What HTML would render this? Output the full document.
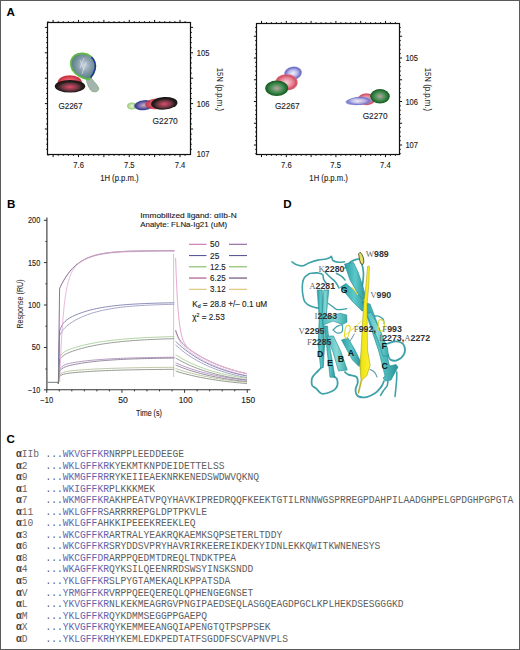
<!DOCTYPE html>
<html><head><meta charset="utf-8"><style>
html,body{margin:0;padding:0;background:#fff;}
body{width:520px;height:650px;overflow:hidden;}
svg{display:block;font-family:"Liberation Sans",sans-serif;}
</style></head><body>
<svg width="520" height="650" viewBox="0 0 520 650">
<defs><radialGradient id="gBK" cx="50%" cy="56%" r="50%"><stop offset="0" stop-color="#d85070"/><stop offset="0.25" stop-color="#b04058"/><stop offset="0.55" stop-color="#6a3840"/><stop offset="0.8" stop-color="#2e1c1e"/><stop offset="1" stop-color="#141414"/></radialGradient><radialGradient id="gRED" cx="50%" cy="50%" r="50%"><stop offset="0" stop-color="#f08890"/><stop offset="0.6" stop-color="#e05060"/><stop offset="0.9" stop-color="#c83040"/><stop offset="1" stop-color="#d04a50"/></radialGradient><radialGradient id="gGRN" cx="50%" cy="50%" r="50%"><stop offset="0" stop-color="#c0a0a0"/><stop offset="0.35" stop-color="#6a9a70"/><stop offset="0.75" stop-color="#2a7a3a"/><stop offset="0.95" stop-color="#1a5a26"/><stop offset="1" stop-color="#2a6a30"/></radialGradient><radialGradient id="gLAV" cx="50%" cy="50%" r="50%"><stop offset="0" stop-color="#f0f0fa"/><stop offset="0.5" stop-color="#b8b8e8"/><stop offset="0.85" stop-color="#7070c8"/><stop offset="1" stop-color="#9090d0"/></radialGradient><radialGradient id="gPINK" cx="50%" cy="50%" r="50%"><stop offset="0" stop-color="#f8d0d8"/><stop offset="0.55" stop-color="#e88898"/><stop offset="0.85" stop-color="#d05068"/><stop offset="1" stop-color="#e07080"/></radialGradient><radialGradient id="gBAL" cx="55%" cy="45%" r="50%"><stop offset="0" stop-color="#c8d4e0"/><stop offset="0.5" stop-color="#8ea2b0"/><stop offset="0.85" stop-color="#6a8a96"/><stop offset="1" stop-color="#5a8a80"/></radialGradient><radialGradient id="gBLU" cx="50%" cy="50%" r="50%"><stop offset="0" stop-color="#c8b0c0"/><stop offset="0.5" stop-color="#8070a8"/><stop offset="0.85" stop-color="#3a4090"/><stop offset="1" stop-color="#5060a8"/></radialGradient><radialGradient id="gLG" cx="50%" cy="50%" r="50%"><stop offset="0" stop-color="#e8f4d8"/><stop offset="0.6" stop-color="#b8dc98"/><stop offset="1" stop-color="#90c870"/></radialGradient><linearGradient id="gTeal" x1="0" y1="0" x2="1" y2="0"><stop offset="0" stop-color="#2a9ea4"/><stop offset="0.5" stop-color="#5cc8ca"/><stop offset="1" stop-color="#2a9298"/></linearGradient><linearGradient id="gTeal2" x1="0" y1="0" x2="1" y2="0"><stop offset="0" stop-color="#50bcbc"/><stop offset="0.5" stop-color="#88d8d6"/><stop offset="1" stop-color="#3aaaac"/></linearGradient><linearGradient id="gYel" x1="0" y1="0" x2="1" y2="0"><stop offset="0" stop-color="#a8a018"/><stop offset="0.3" stop-color="#ece418"/><stop offset="1" stop-color="#fff22a"/></linearGradient></defs>
<rect x="0" y="0" width="520" height="650" fill="#fff"/>
<rect x="47.5" y="22.5" width="143" height="132" fill="none" stroke="#111" stroke-width="1.2"/>
<path d="M48.05 22.5v-1.3M48.05 154.5v1.3M53.12 22.5v-2.6M53.12 154.5v2.6M58.2 22.5v-1.3M58.2 154.5v1.3M63.27 22.5v-1.3M63.27 154.5v1.3M68.35 22.5v-1.3M68.35 154.5v1.3M73.42 22.5v-1.3M73.42 154.5v1.3M78.5 22.5v-2.6M78.5 154.5v2.6M83.58 22.5v-1.3M83.58 154.5v1.3M88.65 22.5v-1.3M88.65 154.5v1.3M93.72 22.5v-1.3M93.72 154.5v1.3M98.8 22.5v-1.3M98.8 154.5v1.3M103.88 22.5v-2.6M103.88 154.5v2.6M108.95 22.5v-1.3M108.95 154.5v1.3M114.03 22.5v-1.3M114.03 154.5v1.3M119.1 22.5v-1.3M119.1 154.5v1.3M124.18 22.5v-1.3M124.18 154.5v1.3M129.25 22.5v-2.6M129.25 154.5v2.6M134.32 22.5v-1.3M134.32 154.5v1.3M139.4 22.5v-1.3M139.4 154.5v1.3M144.48 22.5v-1.3M144.48 154.5v1.3M149.55 22.5v-1.3M149.55 154.5v1.3M154.62 22.5v-2.6M154.62 154.5v2.6M159.7 22.5v-1.3M159.7 154.5v1.3M164.78 22.5v-1.3M164.78 154.5v1.3M169.85 22.5v-1.3M169.85 154.5v1.3M174.93 22.5v-1.3M174.93 154.5v1.3M180 22.5v-2.6M180 154.5v2.6M185.07 22.5v-1.3M185.07 154.5v1.3M47.5 27.4h-2.6M190.5 27.4h2.6M47.5 32.48h-1.3M190.5 32.48h1.3M47.5 37.56h-1.3M190.5 37.56h1.3M47.5 42.64h-1.3M190.5 42.64h1.3M47.5 47.72h-1.3M190.5 47.72h1.3M47.5 52.8h-2.6M190.5 52.8h2.6M47.5 57.88h-1.3M190.5 57.88h1.3M47.5 62.96h-1.3M190.5 62.96h1.3M47.5 68.04h-1.3M190.5 68.04h1.3M47.5 73.12h-1.3M190.5 73.12h1.3M47.5 78.2h-2.6M190.5 78.2h2.6M47.5 83.28h-1.3M190.5 83.28h1.3M47.5 88.36h-1.3M190.5 88.36h1.3M47.5 93.44h-1.3M190.5 93.44h1.3M47.5 98.52h-1.3M190.5 98.52h1.3M47.5 103.6h-2.6M190.5 103.6h2.6M47.5 108.68h-1.3M190.5 108.68h1.3M47.5 113.76h-1.3M190.5 113.76h1.3M47.5 118.84h-1.3M190.5 118.84h1.3M47.5 123.92h-1.3M190.5 123.92h1.3M47.5 129h-2.6M190.5 129h2.6M47.5 134.08h-1.3M190.5 134.08h1.3M47.5 139.16h-1.3M190.5 139.16h1.3M47.5 144.24h-1.3M190.5 144.24h1.3M47.5 149.32h-1.3M190.5 149.32h1.3" stroke="#111" stroke-width="1" fill="none"/>
<rect x="256.5" y="23.5" width="143" height="131" fill="none" stroke="#111" stroke-width="1.2"/>
<path d="M261.5 23.5v-2.6M261.5 154.5v2.6M266.46 23.5v-1.3M266.46 154.5v1.3M271.42 23.5v-1.3M271.42 154.5v1.3M276.38 23.5v-1.3M276.38 154.5v1.3M281.34 23.5v-1.3M281.34 154.5v1.3M286.3 23.5v-2.6M286.3 154.5v2.6M291.26 23.5v-1.3M291.26 154.5v1.3M296.22 23.5v-1.3M296.22 154.5v1.3M301.18 23.5v-1.3M301.18 154.5v1.3M306.14 23.5v-1.3M306.14 154.5v1.3M311.1 23.5v-2.6M311.1 154.5v2.6M316.06 23.5v-1.3M316.06 154.5v1.3M321.02 23.5v-1.3M321.02 154.5v1.3M325.98 23.5v-1.3M325.98 154.5v1.3M330.94 23.5v-1.3M330.94 154.5v1.3M335.9 23.5v-2.6M335.9 154.5v2.6M340.86 23.5v-1.3M340.86 154.5v1.3M345.82 23.5v-1.3M345.82 154.5v1.3M350.78 23.5v-1.3M350.78 154.5v1.3M355.74 23.5v-1.3M355.74 154.5v1.3M360.7 23.5v-2.6M360.7 154.5v2.6M365.66 23.5v-1.3M365.66 154.5v1.3M370.62 23.5v-1.3M370.62 154.5v1.3M375.58 23.5v-1.3M375.58 154.5v1.3M380.54 23.5v-1.3M380.54 154.5v1.3M385.5 23.5v-2.6M385.5 154.5v2.6M390.46 23.5v-1.3M390.46 154.5v1.3M395.42 23.5v-1.3M395.42 154.5v1.3M256.5 27.55h-1.3M399.5 27.55h1.3M256.5 31.9h-1.3M399.5 31.9h1.3M256.5 36.25h-2.6M399.5 36.25h2.6M256.5 40.6h-1.3M399.5 40.6h1.3M256.5 44.95h-1.3M399.5 44.95h1.3M256.5 49.3h-1.3M399.5 49.3h1.3M256.5 53.65h-1.3M399.5 53.65h1.3M256.5 58h-2.6M399.5 58h2.6M256.5 62.35h-1.3M399.5 62.35h1.3M256.5 66.7h-1.3M399.5 66.7h1.3M256.5 71.05h-1.3M399.5 71.05h1.3M256.5 75.4h-1.3M399.5 75.4h1.3M256.5 79.75h-2.6M399.5 79.75h2.6M256.5 84.1h-1.3M399.5 84.1h1.3M256.5 88.45h-1.3M399.5 88.45h1.3M256.5 92.8h-1.3M399.5 92.8h1.3M256.5 97.15h-1.3M399.5 97.15h1.3M256.5 101.5h-2.6M399.5 101.5h2.6M256.5 105.85h-1.3M399.5 105.85h1.3M256.5 110.2h-1.3M399.5 110.2h1.3M256.5 114.55h-1.3M399.5 114.55h1.3M256.5 118.9h-1.3M399.5 118.9h1.3M256.5 123.25h-2.6M399.5 123.25h2.6M256.5 127.6h-1.3M399.5 127.6h1.3M256.5 131.95h-1.3M399.5 131.95h1.3M256.5 136.3h-1.3M399.5 136.3h1.3M256.5 140.65h-1.3M399.5 140.65h1.3M256.5 145h-2.6M399.5 145h2.6M256.5 149.35h-1.3M399.5 149.35h1.3M256.5 153.7h-1.3M399.5 153.7h1.3" stroke="#111" stroke-width="1" fill="none"/>
<text x="6.6" y="16.0" font-size="11.6" font-weight="bold" fill="#000">A</text>
<text x="6.9" y="208.0" font-size="11.6" font-weight="bold" fill="#000">B</text>
<text x="6.4" y="443.4" font-size="11.6" font-weight="bold" fill="#000">C</text>
<text x="283.2" y="208.0" font-size="11.6" font-weight="bold" fill="#000">D</text>
<text x="196.8" y="55.6" font-size="8.5" fill="#1a1a1a" text-anchor="start" stroke="#1a1a1a" stroke-width="0.12" textLength="12.6" lengthAdjust="spacingAndGlyphs">105</text>
<text x="196.8" y="106.6" font-size="8.5" fill="#1a1a1a" text-anchor="start" stroke="#1a1a1a" stroke-width="0.12" textLength="12.6" lengthAdjust="spacingAndGlyphs">106</text>
<text x="196.8" y="157.3" font-size="8.5" fill="#1a1a1a" text-anchor="start" stroke="#1a1a1a" stroke-width="0.12" textLength="12.6" lengthAdjust="spacingAndGlyphs">107</text>
<text x="405.4" y="61" font-size="8.5" fill="#1a1a1a" text-anchor="start" stroke="#1a1a1a" stroke-width="0.12" textLength="12.6" lengthAdjust="spacingAndGlyphs">105</text>
<text x="405.4" y="104.5" font-size="8.5" fill="#1a1a1a" text-anchor="start" stroke="#1a1a1a" stroke-width="0.12" textLength="12.6" lengthAdjust="spacingAndGlyphs">106</text>
<text x="405.4" y="148" font-size="8.5" fill="#1a1a1a" text-anchor="start" stroke="#1a1a1a" stroke-width="0.12" textLength="12.6" lengthAdjust="spacingAndGlyphs">107</text>
<text x="78.6" y="168" font-size="8.5" fill="#1a1a1a" text-anchor="middle" stroke="#1a1a1a" stroke-width="0.12" textLength="10.6" lengthAdjust="spacingAndGlyphs">7.6</text>
<text x="129.2" y="168" font-size="8.5" fill="#1a1a1a" text-anchor="middle" stroke="#1a1a1a" stroke-width="0.12" textLength="10.6" lengthAdjust="spacingAndGlyphs">7.5</text>
<text x="180" y="168" font-size="8.5" fill="#1a1a1a" text-anchor="middle" stroke="#1a1a1a" stroke-width="0.12" textLength="10.6" lengthAdjust="spacingAndGlyphs">7.4</text>
<text x="286.4" y="168" font-size="8.5" fill="#1a1a1a" text-anchor="middle" stroke="#1a1a1a" stroke-width="0.12" textLength="10.6" lengthAdjust="spacingAndGlyphs">7.6</text>
<text x="335.6" y="168" font-size="8.5" fill="#1a1a1a" text-anchor="middle" stroke="#1a1a1a" stroke-width="0.12" textLength="10.6" lengthAdjust="spacingAndGlyphs">7.5</text>
<text x="385.4" y="168" font-size="8.5" fill="#1a1a1a" text-anchor="middle" stroke="#1a1a1a" stroke-width="0.12" textLength="10.6" lengthAdjust="spacingAndGlyphs">7.4</text>
<text x="119.4" y="180.5" font-size="8.8" fill="#1a1a1a" text-anchor="middle" stroke="#1a1a1a" stroke-width="0.12" textLength="38.5" lengthAdjust="spacingAndGlyphs">1H (p.p.m.)</text>
<text x="328.6" y="180.5" font-size="8.8" fill="#1a1a1a" text-anchor="middle" stroke="#1a1a1a" stroke-width="0.12" textLength="38.5" lengthAdjust="spacingAndGlyphs">1H (p.p.m.)</text>
<text transform="translate(216.5,67.7) rotate(90)" x="0" y="0" font-size="8.8" fill="#1a1a1a" textLength="43.3" lengthAdjust="spacingAndGlyphs">15N (p.p.m.)</text>
<text transform="translate(424.6,67.7) rotate(90)" x="0" y="0" font-size="8.8" fill="#1a1a1a" textLength="43.3" lengthAdjust="spacingAndGlyphs">15N (p.p.m.)</text>
<text x="58.4" y="108.8" font-size="8.6" fill="#1a1a1a" text-anchor="start" stroke="#1a1a1a" stroke-width="0.12" textLength="24.2" lengthAdjust="spacingAndGlyphs">G2267</text>
<text x="152.6" y="124.3" font-size="8.6" fill="#1a1a1a" text-anchor="start" stroke="#1a1a1a" stroke-width="0.12" textLength="25.2" lengthAdjust="spacingAndGlyphs">G2270</text>
<text x="274.9" y="108.6" font-size="8.6" fill="#1a1a1a" text-anchor="start" stroke="#1a1a1a" stroke-width="0.12" textLength="24.8" lengthAdjust="spacingAndGlyphs">G2267</text>
<text x="362.7" y="119" font-size="8.6" fill="#1a1a1a" text-anchor="start" stroke="#1a1a1a" stroke-width="0.12" textLength="24.8" lengthAdjust="spacingAndGlyphs">G2270</text>
<ellipse cx="69.8" cy="82.6" rx="12.2" ry="7.4" fill="url(#gRED)"/>
<path d="M86 78.5 C87 83 88.5 87 90.5 90 C92.5 92.5 97 92.5 98.5 89.8 C99.5 87.5 96.5 84.5 94 81.5 C92.5 79.8 91.5 78.5 91 77.5 Z" fill="#a4b4b0" stroke="#84aa7c" stroke-width="0.9"/>
<path d="M88.5 79.5 C83 78.5 76 75 72.5 70 C69.5 65 70.5 58.5 75 55.2 C79.5 52.3 87 52.8 91 56.5 C94.8 60 96 65 95 69 C94 73.5 91.5 77 88.5 79.5 Z" fill="url(#gBAL)" stroke="#62b844" stroke-width="1.7"/>
<path d="M91.5 57 C94.8 60.5 95.8 65 95 69 C94.2 72.5 92.5 75.5 90.5 77.8" stroke="#2432a0" stroke-width="1.6" fill="none"/>
<path d="M80 60 L84 70 M84 58 L80 68 M86 62 L82 74" stroke="#dfe6ee" stroke-width="0.8" fill="none" opacity="0.8"/>
<ellipse cx="70" cy="86.2" rx="15.2" ry="6.3" fill="url(#gBK)"/>
<ellipse cx="132" cy="106" rx="5" ry="3.6" fill="url(#gLG)"/>
<ellipse cx="144" cy="105.2" rx="10" ry="5" fill="url(#gBLU)" transform="rotate(-6 144 105.2)"/>
<ellipse cx="156" cy="103.8" rx="11" ry="5.4" fill="url(#gRED)" transform="rotate(-5 156 103.8)" opacity="0.85"/>
<ellipse cx="164.3" cy="103.3" rx="13.2" ry="6.3" fill="url(#gBK)" transform="rotate(-4 164.3 103.3)"/>
<ellipse cx="293" cy="73.2" rx="9" ry="6.6" fill="url(#gLAV)" transform="rotate(-10 293 73.2)"/>
<ellipse cx="286.5" cy="82.4" rx="11.2" ry="8.2" fill="url(#gPINK)"/>
<ellipse cx="276.7" cy="88.3" rx="11.5" ry="7.7" fill="url(#gGRN)"/>
<ellipse cx="366.5" cy="99.2" rx="8.8" ry="6" fill="url(#gPINK)"/>
<path d="M345.5 101.5 C349 97.8 357 96.2 364 96.8 C369 97.4 372 99.5 371 101.8 C369 104.5 358 106 350 104.8 C347.5 104.4 345.5 103.2 345.5 101.5 Z" fill="url(#gLAV)" opacity="0.92"/>
<ellipse cx="380" cy="96.3" rx="9.8" ry="7.3" fill="url(#gGRN)"/>
<path d="M46.9 217.4V389.8H250.4" stroke="#333" stroke-width="1.1" fill="none"/>
<path d="M46.9 220.3h-3M46.9 241.5h-1.5M46.9 262.6h-3M46.9 283.8h-1.5M46.9 305h-3M46.9 326.2h-1.5M46.9 347.5h-3M46.9 369h-1.5M46.9 389.8h-3M46.77 389.8v3M59.3 389.8v1.6M71.83 389.8v1.6M84.36 389.8v1.6M96.89 389.8v1.6M109.42 389.8v1.6M121.95 389.8v3M134.48 389.8v1.6M147.01 389.8v1.6M159.54 389.8v1.6M172.07 389.8v1.6M184.6 389.8v3M197.13 389.8v1.6M209.66 389.8v1.6M222.19 389.8v1.6M234.72 389.8v1.6M247.25 389.8v3" stroke="#333" stroke-width="1" fill="none"/>
<text x="40.2" y="223.2" font-size="8.2" fill="#1a1a1a" text-anchor="end" stroke="#1a1a1a" stroke-width="0.12" textLength="12.2" lengthAdjust="spacingAndGlyphs">200</text>
<text x="40.2" y="265.5" font-size="8.2" fill="#1a1a1a" text-anchor="end" stroke="#1a1a1a" stroke-width="0.12" textLength="12.2" lengthAdjust="spacingAndGlyphs">150</text>
<text x="40.2" y="307.9" font-size="8.2" fill="#1a1a1a" text-anchor="end" stroke="#1a1a1a" stroke-width="0.12" textLength="12.2" lengthAdjust="spacingAndGlyphs">100</text>
<text x="40.2" y="350.4" font-size="8.2" fill="#1a1a1a" text-anchor="end" stroke="#1a1a1a" stroke-width="0.12" textLength="8.4" lengthAdjust="spacingAndGlyphs">50</text>
<text x="40.2" y="392.9" font-size="8.2" fill="#1a1a1a" text-anchor="end" stroke="#1a1a1a" stroke-width="0.12" textLength="12.2" lengthAdjust="spacingAndGlyphs">−10</text>
<text x="46.77" y="403" font-size="8.2" fill="#1a1a1a" text-anchor="middle" stroke="#1a1a1a" stroke-width="0.12" textLength="12.8" lengthAdjust="spacingAndGlyphs">−10</text>
<text x="122.95" y="403" font-size="8.2" fill="#1a1a1a" text-anchor="middle" stroke="#1a1a1a" stroke-width="0.12" textLength="9.6" lengthAdjust="spacingAndGlyphs">50</text>
<text x="185.6" y="403" font-size="8.2" fill="#1a1a1a" text-anchor="middle" stroke="#1a1a1a" stroke-width="0.12" textLength="13.8" lengthAdjust="spacingAndGlyphs">100</text>
<text x="248.25" y="403" font-size="8.2" fill="#1a1a1a" text-anchor="middle" stroke="#1a1a1a" stroke-width="0.12" textLength="13.8" lengthAdjust="spacingAndGlyphs">150</text>
<text x="149" y="416.3" font-size="8.2" fill="#1a1a1a" text-anchor="middle" stroke="#1a1a1a" stroke-width="0.12" textLength="25.9" lengthAdjust="spacingAndGlyphs">Time (s)</text>
<text transform="translate(22.6,304) rotate(-90)" font-size="8.6" fill="#222" text-anchor="middle" textLength="49.2" lengthAdjust="spacingAndGlyphs">Response (RU)</text>
<text x="140.2" y="218.2" font-size="7.4" fill="#222" text-anchor="start" stroke="#222" stroke-width="0.12" textLength="96.6" lengthAdjust="spacingAndGlyphs">Immobilized ligand: αIIb-N</text>
<text x="140.2" y="227.1" font-size="7.4" fill="#222" text-anchor="start" stroke="#222" stroke-width="0.12" textLength="87" lengthAdjust="spacingAndGlyphs">Analyte: FLNa-Ig21 (uM)</text>
<path d="M189 244.3H206.5" stroke="#c870b0" stroke-width="1.1"/>
<path d="M229 244.3H247" stroke="#9060a0" stroke-width="1.1"/>
<text x="210" y="247.3" font-size="8.6" fill="#1a1a1a" text-anchor="start" stroke="#1a1a1a" stroke-width="0.12" textLength="9.3" lengthAdjust="spacingAndGlyphs">50</text>
<path d="M189 255.55H206.5" stroke="#5a5a9a" stroke-width="1.1"/>
<path d="M229 255.55H247" stroke="#5a5a9a" stroke-width="1.1"/>
<text x="210" y="258.55" font-size="8.6" fill="#1a1a1a" text-anchor="start" stroke="#1a1a1a" stroke-width="0.12" textLength="9.3" lengthAdjust="spacingAndGlyphs">25</text>
<path d="M189 266.8H206.5" stroke="#80b860" stroke-width="1.1"/>
<path d="M229 266.8H247" stroke="#80b860" stroke-width="1.1"/>
<text x="210" y="269.8" font-size="8.6" fill="#1a1a1a" text-anchor="start" stroke="#1a1a1a" stroke-width="0.12" textLength="15.6" lengthAdjust="spacingAndGlyphs">12.5</text>
<path d="M189 278.05H206.5" stroke="#a84888" stroke-width="1.1"/>
<path d="M229 278.05H247" stroke="#604070" stroke-width="1.1"/>
<text x="210" y="281.05" font-size="8.6" fill="#1a1a1a" text-anchor="start" stroke="#1a1a1a" stroke-width="0.12" textLength="15.6" lengthAdjust="spacingAndGlyphs">6.25</text>
<path d="M189 289.3H206.5" stroke="#d8c070" stroke-width="1.1"/>
<path d="M229 289.3H247" stroke="#d8c070" stroke-width="1.1"/>
<text x="210" y="292.3" font-size="8.6" fill="#1a1a1a" text-anchor="start" stroke="#1a1a1a" stroke-width="0.12" textLength="15.6" lengthAdjust="spacingAndGlyphs">3.12</text>
<text x="192.2" y="306.6" font-size="8.2" fill="#1a1a1a" stroke="#1a1a1a" stroke-width="0.12" textLength="75" lengthAdjust="spacingAndGlyphs">K<tspan font-size="5.2" dy="1.8">d</tspan><tspan dy="-1.8"> = 28.8 +/– 0.1 uM</tspan></text>
<text x="192.2" y="320.2" font-size="8.2" fill="#1a1a1a" stroke="#1a1a1a" stroke-width="0.12" textLength="32.5" lengthAdjust="spacingAndGlyphs">χ<tspan font-size="5.2" dy="-3">2</tspan><tspan dy="3"> = 2.53</tspan></text>
<path d="M57.2 382.3 L58.4 383.3 L59.6 288.7 L60.5 286.77 L62 283.76 L63.5 281.01 L65 278.49 L66.5 276.19 L68 274.08 L69.5 272.15 L71 270.38 L72.5 268.76 L74 267.28 L75.5 265.92 L77 264.67 L78.5 263.54 L80 262.49 L81.5 261.54 L83 260.67 L84.5 259.87 L86 259.14 L87.5 258.47 L89 257.85 L90.5 257.29 L92 256.78 L93.5 256.31 L95 255.87 L96.5 255.48 L98 255.12 L99.5 254.79 L101 254.48 L102.5 254.21 L104 253.95 L105.5 253.72 L107 253.51 L108.5 253.31 L110 253.13 L111.5 252.97 L113 252.82 L114.5 252.68 L116 252.56 L117.5 252.44 L119 252.34 L120.5 252.24 L122 252.15 L123.5 252.07 L125 252 L126.5 251.93 L128 251.87 L129.5 251.81 L131 251.76 L132.5 251.71 L134 251.67 L135.5 251.63 L137 251.6 L138.5 251.56 L140 251.53 L141.5 251.5 L143 251.48 L144.5 251.45 L146 251.43 L147.5 251.41 L149 251.4 L150.5 251.38 L152 251.36 L153.5 251.35 L155 251.34 L156.5 251.33 L158 251.31 L159.5 251.31 L161 251.3 L162.5 251.29 L164 251.28 L165.5 251.27 L167 251.27 L168.5 251.26 L170 251.26 L171.5 251.25 L173 251.25 L174.4 251.24 M175.6 331 L176.5 334.19 L178 338.2 L179.5 341.14 L181 343.41 L182.5 345.26 L184 346.84 L185.5 348.24 L187 349.52 L188.5 350.72 L190 351.85 L191.5 352.93 L193 353.96 L194.5 354.96 L196 355.92 L197.5 356.85 L199 357.74 L200.5 358.62 L202 359.46 L203.5 360.28 L205 361.07 L206.5 361.84 L208 362.58 L209.5 363.3 L211 364 L212.5 364.67 L214 365.33 L215.5 365.97 L217 366.58 L218.5 367.18 L220 367.76 L221.5 368.32 L223 368.86 L224.5 369.39 L226 369.9 L227.5 370.4 L229 370.88 L230.5 371.34 L232 371.79 L233.5 372.23 L235 372.66 L236.5 373.07 L238 373.46 L239.5 373.85 L241 374.22 L242.5 374.59 L244 374.94 L245.5 375.28 L247 375.61" stroke="#d8b0d4" stroke-width="0.7" fill="none"/>
<path d="M57.2 382.3 L58.4 383.3 L59.6 288.5 L60.5 286.55 L62 283.51 L63.5 280.73 L65 278.19 L66.5 275.86 L68 273.72 L69.5 271.77 L71 269.98 L72.5 268.35 L74 266.85 L75.5 265.47 L77 264.22 L78.5 263.07 L80 262.02 L81.5 261.05 L83 260.17 L84.5 259.36 L86 258.62 L87.5 257.94 L89 257.32 L90.5 256.76 L92 256.24 L93.5 255.76 L95 255.32 L96.5 254.92 L98 254.56 L99.5 254.23 L101 253.92 L102.5 253.64 L104 253.38 L105.5 253.15 L107 252.93 L108.5 252.74 L110 252.55 L111.5 252.39 L113 252.24 L114.5 252.1 L116 251.97 L117.5 251.86 L119 251.75 L120.5 251.65 L122 251.56 L123.5 251.48 L125 251.41 L126.5 251.34 L128 251.28 L129.5 251.22 L131 251.17 L132.5 251.12 L134 251.08 L135.5 251.04 L137 251 L138.5 250.97 L140 250.93 L141.5 250.91 L143 250.88 L144.5 250.86 L146 250.84 L147.5 250.82 L149 250.8 L150.5 250.78 L152 250.77 L153.5 250.75 L155 250.74 L156.5 250.73 L158 250.72 L159.5 250.71 L161 250.7 L162.5 250.69 L164 250.68 L165.5 250.67 L167 250.67 L168.5 250.66 L170 250.66 L171.5 250.65 L173 250.65 L174.4 250.64 M175.6 330 L176.5 332.91 L178 336.61 L179.5 339.35 L181 341.49 L182.5 343.26 L184 344.78 L185.5 346.15 L187 347.4 L188.5 348.58 L190 349.7 L191.5 350.76 L193 351.79 L194.5 352.78 L196 353.74 L197.5 354.66 L199 355.56 L200.5 356.43 L202 357.28 L203.5 358.1 L205 358.89 L206.5 359.67 L208 360.41 L209.5 361.14 L211 361.85 L212.5 362.53 L214 363.19 L215.5 363.84 L217 364.46 L218.5 365.07 L220 365.66 L221.5 366.23 L223 366.79 L224.5 367.33 L226 367.85 L227.5 368.35 L229 368.85 L230.5 369.32 L232 369.79 L233.5 370.24 L235 370.67 L236.5 371.1 L238 371.51 L239.5 371.91 L241 372.29 L242.5 372.67 L244 373.03 L245.5 373.39 L247 373.73" stroke="#6a5878" stroke-width="0.7" fill="none"/>
<path d="M57.2 382.3 L58.4 383.3 L59.6 330.9 L60.5 328.45 L62 325.38 L63.5 323.17 L65 321.5 L66.5 320.16 L68 319.05 L69.5 318.09 L71 317.23 L72.5 316.45 L74 315.72 L75.5 315.05 L77 314.41 L78.5 313.82 L80 313.25 L81.5 312.71 L83 312.2 L84.5 311.72 L86 311.26 L87.5 310.82 L89 310.41 L90.5 310.01 L92 309.64 L93.5 309.28 L95 308.94 L96.5 308.61 L98 308.31 L99.5 308.01 L101 307.73 L102.5 307.47 L104 307.22 L105.5 306.98 L107 306.75 L108.5 306.53 L110 306.33 L111.5 306.13 L113 305.94 L114.5 305.76 L116 305.6 L117.5 305.44 L119 305.28 L120.5 305.14 L122 305 L123.5 304.87 L125 304.74 L126.5 304.62 L128 304.51 L129.5 304.4 L131 304.3 L132.5 304.2 L134 304.11 L135.5 304.02 L137 303.94 L138.5 303.86 L140 303.78 L141.5 303.71 L143 303.64 L144.5 303.57 L146 303.51 L147.5 303.45 L149 303.4 L150.5 303.34 L152 303.29 L153.5 303.24 L155 303.2 L156.5 303.15 L158 303.11 L159.5 303.07 L161 303.04 L162.5 303 L164 302.97 L165.5 302.93 L167 302.9 L168.5 302.87 L170 302.84 L171.5 302.82 L173 302.79 L174.4 302.77 M175.6 341.4 L176.5 342.26 L178 343.66 L179.5 345.02 L181 346.33 L182.5 347.6 L184 348.82 L185.5 350.01 L187 351.16 L188.5 352.27 L190 353.34 L191.5 354.38 L193 355.38 L194.5 356.35 L196 357.29 L197.5 358.2 L199 359.08 L200.5 359.93 L202 360.75 L203.5 361.55 L205 362.31 L206.5 363.06 L208 363.78 L209.5 364.47 L211 365.15 L212.5 365.8 L214 366.43 L215.5 367.04 L217 367.62 L218.5 368.19 L220 368.75 L221.5 369.28 L223 369.79 L224.5 370.29 L226 370.77 L227.5 371.24 L229 371.69 L230.5 372.13 L232 372.55 L233.5 372.96 L235 373.35 L236.5 373.73 L238 374.1 L239.5 374.46 L241 374.81 L242.5 375.14 L244 375.46 L245.5 375.78 L247 376.08" stroke="#5a5a98" stroke-width="0.7" fill="none"/>
<path d="M57.2 382.3 L58.4 383.3 L59.6 335.6 L60.5 333.74 L62 331.25 L63.5 329.29 L65 327.67 L66.5 326.27 L68 325.03 L69.5 323.91 L71 322.87 L72.5 321.9 L74 321 L75.5 320.14 L77 319.33 L78.5 318.57 L80 317.84 L81.5 317.15 L83 316.49 L84.5 315.87 L86 315.27 L87.5 314.71 L89 314.17 L90.5 313.66 L92 313.17 L93.5 312.71 L95 312.27 L96.5 311.85 L98 311.46 L99.5 311.08 L101 310.72 L102.5 310.38 L104 310.05 L105.5 309.74 L107 309.45 L108.5 309.17 L110 308.9 L111.5 308.65 L113 308.41 L114.5 308.18 L116 307.96 L117.5 307.75 L119 307.55 L120.5 307.36 L122 307.19 L123.5 307.02 L125 306.85 L126.5 306.7 L128 306.55 L129.5 306.41 L131 306.28 L132.5 306.16 L134 306.04 L135.5 305.92 L137 305.81 L138.5 305.71 L140 305.61 L141.5 305.52 L143 305.43 L144.5 305.35 L146 305.27 L147.5 305.19 L149 305.12 L150.5 305.05 L152 304.98 L153.5 304.92 L155 304.86 L156.5 304.8 L158 304.75 L159.5 304.7 L161 304.65 L162.5 304.6 L164 304.56 L165.5 304.52 L167 304.48 L168.5 304.44 L170 304.4 L171.5 304.37 L173 304.34 L174.4 304.31 M175.6 345 L176.5 345.81 L178 347.13 L179.5 348.4 L181 349.64 L182.5 350.83 L184 351.98 L185.5 353.1 L187 354.18 L188.5 355.22 L190 356.23 L191.5 357.2 L193 358.15 L194.5 359.06 L196 359.94 L197.5 360.8 L199 361.62 L200.5 362.42 L202 363.2 L203.5 363.94 L205 364.67 L206.5 365.37 L208 366.04 L209.5 366.7 L211 367.33 L212.5 367.94 L214 368.53 L215.5 369.11 L217 369.66 L218.5 370.2 L220 370.71 L221.5 371.22 L223 371.7 L224.5 372.17 L226 372.62 L227.5 373.06 L229 373.49 L230.5 373.9 L232 374.29 L233.5 374.68 L235 375.05 L236.5 375.41 L238 375.75 L239.5 376.09 L241 376.41 L242.5 376.73 L244 377.03 L245.5 377.33 L247 377.61" stroke="#8080b0" stroke-width="0.7" fill="none"/>
<path d="M57.2 382.3 L58.4 383.3 L59.6 357.1 L60.5 355.67 L62 353.88 L63.5 352.56 L65 351.55 L66.5 350.73 L68 350.03 L69.5 349.41 L71 348.85 L72.5 348.33 L74 347.84 L75.5 347.38 L77 346.94 L78.5 346.52 L80 346.11 L81.5 345.72 L83 345.35 L84.5 344.99 L86 344.65 L87.5 344.31 L89 343.99 L90.5 343.68 L92 343.39 L93.5 343.1 L95 342.82 L96.5 342.56 L98 342.3 L99.5 342.05 L101 341.82 L102.5 341.59 L104 341.37 L105.5 341.16 L107 340.95 L108.5 340.75 L110 340.56 L111.5 340.38 L113 340.21 L114.5 340.04 L116 339.87 L117.5 339.72 L119 339.56 L120.5 339.42 L122 339.28 L123.5 339.14 L125 339.01 L126.5 338.89 L128 338.77 L129.5 338.65 L131 338.54 L132.5 338.43 L134 338.32 L135.5 338.22 L137 338.13 L138.5 338.03 L140 337.94 L141.5 337.86 L143 337.78 L144.5 337.7 L146 337.62 L147.5 337.54 L149 337.47 L150.5 337.4 L152 337.34 L153.5 337.27 L155 337.21 L156.5 337.15 L158 337.1 L159.5 337.04 L161 336.99 L162.5 336.94 L164 336.89 L165.5 336.84 L167 336.79 L168.5 336.75 L170 336.71 L171.5 336.67 L173 336.63 L174.4 336.59 M175.6 354.7 L176.5 355.27 L178 356.21 L179.5 357.11 L181 357.99 L182.5 358.84 L184 359.66 L185.5 360.45 L187 361.23 L188.5 361.97 L190 362.7 L191.5 363.4 L193 364.08 L194.5 364.73 L196 365.37 L197.5 365.99 L199 366.58 L200.5 367.16 L202 367.72 L203.5 368.26 L205 368.79 L206.5 369.3 L208 369.79 L209.5 370.27 L211 370.73 L212.5 371.18 L214 371.62 L215.5 372.04 L217 372.44 L218.5 372.84 L220 373.22 L221.5 373.59 L223 373.95 L224.5 374.29 L226 374.63 L227.5 374.96 L229 375.27 L230.5 375.58 L232 375.87 L233.5 376.16 L235 376.44 L236.5 376.71 L238 376.97 L239.5 377.22 L241 377.46 L242.5 377.7 L244 377.93 L245.5 378.15 L247 378.37" stroke="#90c078" stroke-width="0.7" fill="none"/>
<path d="M57.2 382.3 L58.4 383.3 L59.6 359.4 L60.5 358.2 L62 356.65 L63.5 355.47 L65 354.52 L66.5 353.72 L68 353.02 L69.5 352.39 L71 351.8 L72.5 351.26 L74 350.74 L75.5 350.25 L77 349.78 L78.5 349.33 L80 348.89 L81.5 348.48 L83 348.07 L84.5 347.69 L86 347.32 L87.5 346.96 L89 346.61 L90.5 346.28 L92 345.96 L93.5 345.66 L95 345.36 L96.5 345.07 L98 344.8 L99.5 344.53 L101 344.28 L102.5 344.03 L104 343.8 L105.5 343.57 L107 343.35 L108.5 343.14 L110 342.93 L111.5 342.74 L113 342.55 L114.5 342.37 L116 342.19 L117.5 342.02 L119 341.86 L120.5 341.7 L122 341.55 L123.5 341.41 L125 341.27 L126.5 341.13 L128 341 L129.5 340.88 L131 340.75 L132.5 340.64 L134 340.53 L135.5 340.42 L137 340.32 L138.5 340.22 L140 340.12 L141.5 340.03 L143 339.94 L144.5 339.85 L146 339.77 L147.5 339.69 L149 339.61 L150.5 339.54 L152 339.47 L153.5 339.4 L155 339.33 L156.5 339.27 L158 339.21 L159.5 339.15 L161 339.09 L162.5 339.04 L164 338.98 L165.5 338.93 L167 338.88 L168.5 338.84 L170 338.79 L171.5 338.75 L173 338.7 L174.4 338.67 M175.6 358 L176.5 358.53 L178 359.39 L179.5 360.23 L181 361.04 L182.5 361.82 L184 362.58 L185.5 363.32 L187 364.03 L188.5 364.72 L190 365.39 L191.5 366.04 L193 366.66 L194.5 367.27 L196 367.86 L197.5 368.43 L199 368.98 L200.5 369.52 L202 370.03 L203.5 370.53 L205 371.02 L206.5 371.49 L208 371.95 L209.5 372.39 L211 372.82 L212.5 373.23 L214 373.63 L215.5 374.02 L217 374.4 L218.5 374.76 L220 375.11 L221.5 375.46 L223 375.79 L224.5 376.11 L226 376.42 L227.5 376.72 L229 377.01 L230.5 377.29 L232 377.57 L233.5 377.83 L235 378.09 L236.5 378.34 L238 378.58 L239.5 378.81 L241 379.04 L242.5 379.26 L244 379.47 L245.5 379.67 L247 379.87" stroke="#6a7468" stroke-width="0.7" fill="none"/>
<path d="M57.2 382.3 L58.4 383.3 L59.6 369.3 L60.5 368.05 L62 366.54 L63.5 365.5 L65 364.76 L66.5 364.2 L68 363.75 L69.5 363.38 L71 363.05 L72.5 362.76 L74 362.5 L75.5 362.25 L77 362.02 L78.5 361.8 L80 361.59 L81.5 361.4 L83 361.21 L84.5 361.02 L86 360.85 L87.5 360.69 L89 360.53 L90.5 360.37 L92 360.23 L93.5 360.09 L95 359.96 L96.5 359.83 L98 359.7 L99.5 359.59 L101 359.47 L102.5 359.37 L104 359.26 L105.5 359.16 L107 359.07 L108.5 358.98 L110 358.89 L111.5 358.81 L113 358.73 L114.5 358.65 L116 358.58 L117.5 358.51 L119 358.44 L120.5 358.37 L122 358.31 L123.5 358.25 L125 358.2 L126.5 358.14 L128 358.09 L129.5 358.04 L131 357.99 L132.5 357.95 L134 357.9 L135.5 357.86 L137 357.82 L138.5 357.78 L140 357.74 L141.5 357.71 L143 357.68 L144.5 357.64 L146 357.61 L147.5 357.58 L149 357.55 L150.5 357.53 L152 357.5 L153.5 357.47 L155 357.45 L156.5 357.43 L158 357.4 L159.5 357.38 L161 357.36 L162.5 357.34 L164 357.33 L165.5 357.31 L167 357.29 L168.5 357.27 L170 357.26 L171.5 357.24 L173 357.23 L174.4 357.22 M175.6 362.8 L176.5 363.21 L178 363.87 L179.5 364.51 L181 365.13 L182.5 365.74 L184 366.32 L185.5 366.89 L187 367.45 L188.5 367.98 L190 368.51 L191.5 369.01 L193 369.51 L194.5 369.98 L196 370.45 L197.5 370.9 L199 371.34 L200.5 371.76 L202 372.17 L203.5 372.58 L205 372.96 L206.5 373.34 L208 373.71 L209.5 374.07 L211 374.41 L212.5 374.75 L214 375.07 L215.5 375.39 L217 375.7 L218.5 376 L220 376.29 L221.5 376.57 L223 376.84 L224.5 377.11 L226 377.36 L227.5 377.61 L229 377.86 L230.5 378.09 L232 378.32 L233.5 378.55 L235 378.76 L236.5 378.97 L238 379.17 L239.5 379.37 L241 379.56 L242.5 379.75 L244 379.93 L245.5 380.11 L247 380.28" stroke="#9a70a8" stroke-width="0.7" fill="none"/>
<path d="M57.2 382.3 L58.4 383.3 L59.6 371 L60.5 369.96 L62 368.67 L63.5 367.73 L65 367.02 L66.5 366.46 L68 365.98 L69.5 365.57 L71 365.2 L72.5 364.87 L74 364.55 L75.5 364.25 L77 363.97 L78.5 363.71 L80 363.45 L81.5 363.21 L83 362.98 L84.5 362.76 L86 362.55 L87.5 362.34 L89 362.15 L90.5 361.96 L92 361.78 L93.5 361.61 L95 361.45 L96.5 361.29 L98 361.14 L99.5 360.99 L101 360.86 L102.5 360.72 L104 360.6 L105.5 360.48 L107 360.36 L108.5 360.25 L110 360.14 L111.5 360.04 L113 359.94 L114.5 359.85 L116 359.76 L117.5 359.67 L119 359.59 L120.5 359.51 L122 359.43 L123.5 359.36 L125 359.29 L126.5 359.22 L128 359.16 L129.5 359.1 L131 359.04 L132.5 358.98 L134 358.93 L135.5 358.88 L137 358.83 L138.5 358.78 L140 358.74 L141.5 358.69 L143 358.65 L144.5 358.61 L146 358.57 L147.5 358.54 L149 358.5 L150.5 358.47 L152 358.44 L153.5 358.4 L155 358.37 L156.5 358.35 L158 358.32 L159.5 358.29 L161 358.27 L162.5 358.24 L164 358.22 L165.5 358.2 L167 358.18 L168.5 358.16 L170 358.14 L171.5 358.12 L173 358.1 L174.4 358.09 M175.6 365 L176.5 365.38 L178 366.01 L179.5 366.62 L181 367.21 L182.5 367.78 L184 368.34 L185.5 368.88 L187 369.41 L188.5 369.92 L190 370.41 L191.5 370.89 L193 371.36 L194.5 371.81 L196 372.25 L197.5 372.68 L199 373.1 L200.5 373.5 L202 373.89 L203.5 374.27 L205 374.64 L206.5 375 L208 375.34 L209.5 375.68 L211 376.01 L212.5 376.33 L214 376.64 L215.5 376.94 L217 377.23 L218.5 377.51 L220 377.79 L221.5 378.06 L223 378.31 L224.5 378.57 L226 378.81 L227.5 379.05 L229 379.28 L230.5 379.5 L232 379.72 L233.5 379.93 L235 380.14 L236.5 380.33 L238 380.53 L239.5 380.72 L241 380.9 L242.5 381.07 L244 381.25 L245.5 381.41 L247 381.57" stroke="#6a5a78" stroke-width="0.7" fill="none"/>
<path d="M57.2 382.3 L58.4 383.3 L59.6 375 L60.5 374.11 L62 373.06 L63.5 372.35 L65 371.86 L66.5 371.51 L68 371.24 L69.5 371.01 L71 370.83 L72.5 370.66 L74 370.51 L75.5 370.37 L77 370.25 L78.5 370.12 L80 370.01 L81.5 369.89 L83 369.79 L84.5 369.68 L86 369.58 L87.5 369.49 L89 369.4 L90.5 369.31 L92 369.22 L93.5 369.14 L95 369.06 L96.5 368.99 L98 368.91 L99.5 368.84 L101 368.78 L102.5 368.71 L104 368.65 L105.5 368.59 L107 368.53 L108.5 368.47 L110 368.42 L111.5 368.37 L113 368.32 L114.5 368.27 L116 368.22 L117.5 368.18 L119 368.13 L120.5 368.09 L122 368.05 L123.5 368.01 L125 367.97 L126.5 367.94 L128 367.9 L129.5 367.87 L131 367.84 L132.5 367.81 L134 367.78 L135.5 367.75 L137 367.72 L138.5 367.7 L140 367.67 L141.5 367.65 L143 367.62 L144.5 367.6 L146 367.58 L147.5 367.56 L149 367.53 L150.5 367.52 L152 367.5 L153.5 367.48 L155 367.46 L156.5 367.44 L158 367.43 L159.5 367.41 L161 367.4 L162.5 367.38 L164 367.37 L165.5 367.35 L167 367.34 L168.5 367.33 L170 367.32 L171.5 367.3 L173 367.29 L174.4 367.28 M175.6 368.5 L176.5 368.81 L178 369.32 L179.5 369.81 L181 370.29 L182.5 370.76 L184 371.21 L185.5 371.65 L187 372.08 L188.5 372.5 L190 372.9 L191.5 373.29 L193 373.68 L194.5 374.05 L196 374.41 L197.5 374.76 L199 375.1 L200.5 375.44 L202 375.76 L203.5 376.07 L205 376.38 L206.5 376.67 L208 376.96 L209.5 377.24 L211 377.51 L212.5 377.78 L214 378.04 L215.5 378.29 L217 378.53 L218.5 378.77 L220 379 L221.5 379.22 L223 379.44 L224.5 379.65 L226 379.85 L227.5 380.05 L229 380.25 L230.5 380.43 L232 380.62 L233.5 380.8 L235 380.97 L236.5 381.14 L238 381.3 L239.5 381.46 L241 381.61 L242.5 381.76 L244 381.91 L245.5 382.05 L247 382.19" stroke="#a0b080" stroke-width="0.7" fill="none"/>
<path d="M57.2 382.3 L58.4 383.3 L59.6 376.2 L60.5 375.57 L62 374.8 L63.5 374.26 L65 373.87 L66.5 373.58 L68 373.34 L69.5 373.13 L71 372.96 L72.5 372.79 L74 372.64 L75.5 372.5 L77 372.37 L78.5 372.25 L80 372.12 L81.5 372.01 L83 371.9 L84.5 371.79 L86 371.69 L87.5 371.59 L89 371.49 L90.5 371.4 L92 371.31 L93.5 371.23 L95 371.15 L96.5 371.07 L98 370.99 L99.5 370.92 L101 370.85 L102.5 370.78 L104 370.71 L105.5 370.65 L107 370.59 L108.5 370.53 L110 370.48 L111.5 370.42 L113 370.37 L114.5 370.32 L116 370.27 L117.5 370.22 L119 370.18 L120.5 370.13 L122 370.09 L123.5 370.05 L125 370.01 L126.5 369.98 L128 369.94 L129.5 369.91 L131 369.87 L132.5 369.84 L134 369.81 L135.5 369.78 L137 369.75 L138.5 369.72 L140 369.7 L141.5 369.67 L143 369.65 L144.5 369.62 L146 369.6 L147.5 369.58 L149 369.56 L150.5 369.54 L152 369.52 L153.5 369.5 L155 369.48 L156.5 369.46 L158 369.44 L159.5 369.43 L161 369.41 L162.5 369.4 L164 369.38 L165.5 369.37 L167 369.35 L168.5 369.34 L170 369.33 L171.5 369.32 L173 369.31 L174.4 369.29 M175.6 371 L176.5 371.29 L178 371.75 L179.5 372.21 L181 372.65 L182.5 373.08 L184 373.49 L185.5 373.9 L187 374.29 L188.5 374.67 L190 375.04 L191.5 375.41 L193 375.76 L194.5 376.1 L196 376.43 L197.5 376.75 L199 377.07 L200.5 377.37 L202 377.67 L203.5 377.96 L205 378.24 L206.5 378.51 L208 378.78 L209.5 379.03 L211 379.28 L212.5 379.53 L214 379.76 L215.5 379.99 L217 380.22 L218.5 380.43 L220 380.64 L221.5 380.85 L223 381.05 L224.5 381.24 L226 381.43 L227.5 381.61 L229 381.79 L230.5 381.97 L232 382.13 L233.5 382.3 L235 382.46 L236.5 382.61 L238 382.76 L239.5 382.91 L241 383.05 L242.5 383.19 L244 383.32 L245.5 383.45 L247 383.58" stroke="#6a7060" stroke-width="0.7" fill="none"/>
<path d="M47.4 382.3H57.4" stroke="#666a70" stroke-width="0.9" fill="none"/>
<path d="M173.6 254V377" stroke="#b8b0c0" stroke-width="0.7" fill="none"/>
<path d="M59.6 382.3 L60.1 369.04 L60.6 357.39 L61.1 347.14 L61.6 338.11 L62.1 330.16 L62.6 323.13 L63.1 316.93 L63.6 311.43 L64.1 306.56 L64.6 302.23 L65.1 298.38 L65.6 294.95 L66.1 291.88 L66.6 289.13 L67.1 286.66 L67.6 284.44 L68.1 282.43 L68.6 280.62 L69.1 278.98 L69.6 277.48 L70.1 276.11 L70.6 274.86 L71.1 273.71 L71.6 272.66 L72.1 271.68 L72.6 270.78 L73.1 269.94 L73.6 269.15 L74.1 268.42 L74.6 267.74 L75.1 267.09 L75.6 266.49 L76.1 265.92 L76.6 265.38 L77.1 264.86 L77.6 264.38 L78.1 263.92 L78.6 263.47 L79.1 263.05 L79.6 262.65 L80.1 262.26 L80.6 261.89 L81.1 261.54 L81.6 261.2 L82.1 260.87 L82.6 260.55 L83.1 260.25 L83.6 259.96 L84.1 259.67 L84.6 259.4 L85.1 259.14 L85.6 258.88 L86.1 258.63 L86.6 258.39 L87.1 258.16 L87.6 257.94 L88.1 257.72 L88.6 257.51 L89.1 257.31 L89.6 257.11 L90.1 256.92 L90.6 256.74 L91.1 256.56 L91.6 256.38 L92.1 256.21 L92.6 256.05 L93.1 255.89 L93.6 255.74 L94.1 255.59 L94.6 255.44 L95.1 255.3 L95.6 255.16 L96.1 255.03 L96.6 254.9 L97.1 254.78 L97.6 254.66 L98.1 254.54 L98.6 254.42 L99.1 254.31 L99.6 254.21 L100.1 254.1 L100.6 254 L101.1 253.9 L101.6 253.8 L102.1 253.71 L102.6 253.62 L103.1 253.53 L103.6 253.45 L104.1 253.37 L104.6 253.29 L105.1 253.21 L105.6 253.13 L106.1 253.06 L106.6 252.99 L107.1 252.92 L107.6 252.85 L108.1 252.79 L108.6 252.72 L109.1 252.66 L109.6 252.6 L110.1 252.54 L110.6 252.49 L111.1 252.43 L111.6 252.38 L112.1 252.33 L112.6 252.28 L113.1 252.23 L113.6 252.18 L114.1 252.14 L114.6 252.09 L115.1 252.05 L115.6 252.01 L116.1 251.97 L116.6 251.93 L117.1 251.89 L117.6 251.85 L118.1 251.81 L118.6 251.78 L119.1 251.74 L119.6 251.71 L120.1 251.68 L120.6 251.65 L121.1 251.62 L121.6 251.59 L122.1 251.56 L122.6 251.53 L123.1 251.5 L123.6 251.48 L124.1 251.45 L124.6 251.43 L125.1 251.4 L125.6 251.38 L126.1 251.36 L126.6 251.34 L127.1 251.31 L127.6 251.29 L128.1 251.27 L128.6 251.25 L129.1 251.24 L129.6 251.22 L130.1 251.2 L130.6 251.18 L131.1 251.16 L131.6 251.15 L132.1 251.13 L132.6 251.12 L133.1 251.1 L133.6 251.09 L134.1 251.07 L134.6 251.06 L135.1 251.05 L135.6 251.03 L136.1 251.02 L136.6 251.01 L137.1 251 L137.6 250.99 L138.1 250.97 L138.6 250.96 L139.1 250.95 L139.6 250.94 L140.1 250.93 L140.6 250.92 L141.1 250.91 L141.6 250.9 L142.1 250.9 L142.6 250.89 L143.1 250.88 L143.6 250.87 L144.1 250.86 L144.6 250.86 L145.1 250.85 L145.6 250.84 L146.1 250.83 L146.6 250.83 L147.1 250.82 L147.6 250.81 L148.1 250.81 L148.6 250.8 L149.1 250.8 L149.6 250.79 L150.1 250.78 L150.6 250.78 L151.1 250.77 L151.6 250.77 L152.1 250.76 L152.6 250.76 L153.1 250.75 L153.6 250.75 L154.1 250.75 L154.6 250.74 L155.1 250.74 L155.6 250.73 L156.1 250.73 L156.6 250.73 L157.1 250.72 L157.6 250.72 L158.1 250.72 L158.6 250.71 L159.1 250.71 L159.6 250.71 L160.1 250.7 L160.6 250.7 L161.1 250.7 L161.6 250.69 L162.1 250.69 L162.6 250.69 L163.1 250.69 L163.6 250.68 L164.1 250.68 L164.6 250.68 L165.1 250.68 L165.6 250.67 L166.1 250.67 L166.6 250.67 L167.1 250.67 L167.6 250.67 L168.1 250.66 L168.6 250.66 L169.1 250.66 L169.6 250.66 L170.1 250.66 L170.6 250.66 L171.1 250.65 L171.6 250.65 L172.1 250.65 L172.6 250.65 L173.1 250.65 L173.6 250.65 L174.1 250.65 L174.6 250.64" stroke="#e0a8d0" stroke-width="0.8" fill="none"/>
<path d="M175.6 258 L176.1 272.47 L176.6 284.49 L177.1 294.49 L177.6 302.81 L178.1 309.75 L178.6 315.55 L179.1 320.42 L179.6 324.5 L180.1 327.94 L180.6 330.86 L181.1 333.33 L181.6 335.45 L182.1 337.26 L182.6 338.82 L183.1 340.18 L183.6 341.37 L184.1 342.42 L184.6 343.35 L185.1 344.19 L185.6 344.94 L186.1 345.63 L186.6 346.26 L187.1 346.84 L187.6 347.38 L188.1 347.89 L188.6 348.37 L189.1 348.83 L189.6 349.27 L190.1 349.69 L190.6 350.1 L191.1 350.49 L191.6 350.87 L192.1 351.24 L192.6 351.6 L193.1 351.96 L193.6 352.31 L194.1 352.65 L194.6 352.98 L195.1 353.31 L195.6 353.64 L196.1 353.96 L196.6 354.28 L197.1 354.59 L197.6 354.9 L198.1 355.2 L198.6 355.5 L199.1 355.8 L199.6 356.09 L200.1 356.38 L200.6 356.67 L201.1 356.95 L201.6 357.23 L202.1 357.51 L202.6 357.79 L203.1 358.06 L203.6 358.33 L204.1 358.59 L204.6 358.86 L205.1 359.12 L205.6 359.38 L206.1 359.63 L206.6 359.89 L207.1 360.14 L207.6 360.38 L208.1 360.63 L208.6 360.87 L209.1 361.11 L209.6 361.35 L210.1 361.58 L210.6 361.81 L211.1 362.04 L211.6 362.27 L212.1 362.5 L212.6 362.72 L213.1 362.94 L213.6 363.16 L214.1 363.37 L214.6 363.59 L215.1 363.8 L215.6 364.01 L216.1 364.22 L216.6 364.42 L217.1 364.62 L217.6 364.82 L218.1 365.02 L218.6 365.22 L219.1 365.41 L219.6 365.61 L220.1 365.8 L220.6 365.99 L221.1 366.17 L221.6 366.36 L222.1 366.54 L222.6 366.72 L223.1 366.9 L223.6 367.08 L224.1 367.25 L224.6 367.43 L225.1 367.6 L225.6 367.77 L226.1 367.94 L226.6 368.1 L227.1 368.27 L227.6 368.43 L228.1 368.59 L228.6 368.75 L229.1 368.91 L229.6 369.07 L230.1 369.22 L230.6 369.37 L231.1 369.53 L231.6 369.68 L232.1 369.82 L232.6 369.97 L233.1 370.12 L233.6 370.26 L234.1 370.4 L234.6 370.54 L235.1 370.68 L235.6 370.82 L236.1 370.96 L236.6 371.09 L237.1 371.23 L237.6 371.36 L238.1 371.49 L238.6 371.62 L239.1 371.75 L239.6 371.87 L240.1 372 L240.6 372.12 L241.1 372.25 L241.6 372.37 L242.1 372.49 L242.6 372.61 L243.1 372.73 L243.6 372.84 L244.1 372.96 L244.6 373.07 L245.1 373.19 L245.6 373.3 L246.1 373.41 L246.6 373.52 L247.1 373.63" stroke="#e8b0d4" stroke-width="1.1" fill="none"/>
<g transform="translate(0,457.2) scale(1,1.08)"><text x="16" y="0" font-family='"Liberation Mono", monospace' font-size="9.64" fill="#686868"><tspan font-weight="bold" fill="#404040">α</tspan>IIb</text><text x="45.42" y="0" font-family='"Liberation Mono", monospace' font-size="9.64" fill="#5e5e5e">...<tspan fill="#6464ac">WKVGFFKR</tspan>NRPPLEEDDEEGE</text></g>
<g transform="translate(0,468.72) scale(1,1.08)"><text x="16" y="0" font-family='"Liberation Mono", monospace' font-size="9.64" fill="#686868"><tspan font-weight="bold" fill="#404040">α</tspan>2</text><text x="45.42" y="0" font-family='"Liberation Mono", monospace' font-size="9.64" fill="#5e5e5e">...<tspan fill="#6464ac">WKLGFFKR</tspan>KYEKMTKNPDEIDETTELSS</text></g>
<g transform="translate(0,480.25) scale(1,1.08)"><text x="16" y="0" font-family='"Liberation Mono", monospace' font-size="9.64" fill="#686868"><tspan font-weight="bold" fill="#404040">α</tspan>9</text><text x="45.42" y="0" font-family='"Liberation Mono", monospace' font-size="9.64" fill="#5e5e5e">...<tspan fill="#6464ac">WKMGFFRR</tspan>RYKEIIEAEKNRKENEDSWDWVQKNQ</text></g>
<g transform="translate(0,491.77) scale(1,1.08)"><text x="16" y="0" font-family='"Liberation Mono", monospace' font-size="9.64" fill="#686868"><tspan font-weight="bold" fill="#404040">α</tspan>1</text><text x="45.42" y="0" font-family='"Liberation Mono", monospace' font-size="9.64" fill="#5e5e5e">...<tspan fill="#6464ac">WKIGFFKR</tspan>PLKKKMEK</text></g>
<g transform="translate(0,503.3) scale(1,1.08)"><text x="16" y="0" font-family='"Liberation Mono", monospace' font-size="9.64" fill="#686868"><tspan font-weight="bold" fill="#404040">α</tspan>7</text><text x="45.42" y="0" font-family='"Liberation Mono", monospace' font-size="9.64" fill="#5e5e5e">...<tspan fill="#6464ac">WKMGFFKR</tspan>AKHPEATVPQYHAVKIPREDRQQFKEEKTGTILRNNWGSPRREGPDAHPILAADGHPELGPDGHPGPGTA</text></g>
<g transform="translate(0,514.83) scale(1,1.08)"><text x="16" y="0" font-family='"Liberation Mono", monospace' font-size="9.64" fill="#686868"><tspan font-weight="bold" fill="#404040">α</tspan>11</text><text x="45.42" y="0" font-family='"Liberation Mono", monospace' font-size="9.64" fill="#5e5e5e">...<tspan fill="#6464ac">WKLGFFR</tspan>SARRRREPGLDPTPKVLE</text></g>
<g transform="translate(0,526.35) scale(1,1.08)"><text x="16" y="0" font-family='"Liberation Mono", monospace' font-size="9.64" fill="#686868"><tspan font-weight="bold" fill="#404040">α</tspan>10</text><text x="45.42" y="0" font-family='"Liberation Mono", monospace' font-size="9.64" fill="#5e5e5e">...<tspan fill="#6464ac">WKLGFF</tspan>AHKKIPEEEKREEKLEQ</text></g>
<g transform="translate(0,537.88) scale(1,1.08)"><text x="16" y="0" font-family='"Liberation Mono", monospace' font-size="9.64" fill="#686868"><tspan font-weight="bold" fill="#404040">α</tspan>3</text><text x="45.42" y="0" font-family='"Liberation Mono", monospace' font-size="9.64" fill="#5e5e5e">...<tspan fill="#6464ac">WKCGFFKR</tspan>ARTRALYEAKRQKAEMKSQPSETERLTDDY</text></g>
<g transform="translate(0,549.4) scale(1,1.08)"><text x="16" y="0" font-family='"Liberation Mono", monospace' font-size="9.64" fill="#686868"><tspan font-weight="bold" fill="#404040">α</tspan>6</text><text x="45.42" y="0" font-family='"Liberation Mono", monospace' font-size="9.64" fill="#5e5e5e">...<tspan fill="#6464ac">WKCGFFKR</tspan>SRYDDSVPRYHAVRIRKEEREIKDEKYIDNLEKKQWITKWNENESYS</text></g>
<g transform="translate(0,560.92) scale(1,1.08)"><text x="16" y="0" font-family='"Liberation Mono", monospace' font-size="9.64" fill="#686868"><tspan font-weight="bold" fill="#404040">α</tspan>8</text><text x="45.42" y="0" font-family='"Liberation Mono", monospace' font-size="9.64" fill="#5e5e5e">...<tspan fill="#6464ac">WKCGFFDR</tspan>ARPPQEDMTDREQLTNDKTPEA</text></g>
<g transform="translate(0,572.45) scale(1,1.08)"><text x="16" y="0" font-family='"Liberation Mono", monospace' font-size="9.64" fill="#686868"><tspan font-weight="bold" fill="#404040">α</tspan>4</text><text x="45.42" y="0" font-family='"Liberation Mono", monospace' font-size="9.64" fill="#5e5e5e">...<tspan fill="#6464ac">WKAGFFKR</tspan>QYKSILQEENRRDSWSYINSKSNDD</text></g>
<g transform="translate(0,583.98) scale(1,1.08)"><text x="16" y="0" font-family='"Liberation Mono", monospace' font-size="9.64" fill="#686868"><tspan font-weight="bold" fill="#404040">α</tspan>5</text><text x="45.42" y="0" font-family='"Liberation Mono", monospace' font-size="9.64" fill="#5e5e5e">...<tspan fill="#6464ac">YKLGFFKR</tspan>SLPYGTAMEKAQLKPPATSDA</text></g>
<g transform="translate(0,595.5) scale(1,1.08)"><text x="16" y="0" font-family='"Liberation Mono", monospace' font-size="9.64" fill="#686868"><tspan font-weight="bold" fill="#404040">α</tspan>V</text><text x="45.42" y="0" font-family='"Liberation Mono", monospace' font-size="9.64" fill="#5e5e5e">...<tspan fill="#6464ac">YRMGFFKR</tspan>VRPPQEEQEREQLQPHENGEGNSET</text></g>
<g transform="translate(0,607.02) scale(1,1.08)"><text x="16" y="0" font-family='"Liberation Mono", monospace' font-size="9.64" fill="#686868"><tspan font-weight="bold" fill="#404040">α</tspan>L</text><text x="45.42" y="0" font-family='"Liberation Mono", monospace' font-size="9.64" fill="#5e5e5e">...<tspan fill="#6464ac">YKVGFFKR</tspan>NLKEKMEAGRGVPNGIPAEDSEQLASGQEAGDPGCLKPLHEKDSESGGGKD</text></g>
<g transform="translate(0,618.55) scale(1,1.08)"><text x="16" y="0" font-family='"Liberation Mono", monospace' font-size="9.64" fill="#686868"><tspan font-weight="bold" fill="#404040">α</tspan>M</text><text x="45.42" y="0" font-family='"Liberation Mono", monospace' font-size="9.64" fill="#5e5e5e">...<tspan fill="#6464ac">YKLGFFKR</tspan>QYKDMMSEGGPPGAEPQ</text></g>
<g transform="translate(0,630.08) scale(1,1.08)"><text x="16" y="0" font-family='"Liberation Mono", monospace' font-size="9.64" fill="#686868"><tspan font-weight="bold" fill="#404040">α</tspan>X</text><text x="45.42" y="0" font-family='"Liberation Mono", monospace' font-size="9.64" fill="#5e5e5e">...<tspan fill="#6464ac">YKVGFFKR</tspan>QYKEMMEEANGQIAPENGTQTPSPPSEK</text></g>
<g transform="translate(0,641.6) scale(1,1.08)"><text x="16" y="0" font-family='"Liberation Mono", monospace' font-size="9.64" fill="#686868"><tspan font-weight="bold" fill="#404040">α</tspan>D</text><text x="45.42" y="0" font-family='"Liberation Mono", monospace' font-size="9.64" fill="#5e5e5e">...<tspan fill="#6464ac">YKLGFFKR</tspan>HYKEMLEDKPEDTATFSGDDFSCVAPNVPLS</text></g>
<g><path d="M292 261.8 C292.67 262.25 294.37 263.82 296 264.5 C297.63 265.18 300.13 265.9 301.8 265.9 C303.47 265.9 304.63 265.08 306 264.5 C307.37 263.92 308 263.13 310 262.4 C312 261.67 315.33 260.67 318 260.1 C320.67 259.53 324 259.43 326 259 C328 258.57 329.08 257.92 330 257.5 C330.92 257.08 331 256 331.5 256.5 C332 257 331.8 259.55 333 260.5 C334.2 261.45 336.78 261.98 338.7 262.2 C340.62 262.42 343.53 261.87 344.5 261.8" stroke="#3ea2a8" stroke-width="1.6" fill="none" stroke-linecap="round" stroke-linejoin="round"/><path d="M317 272.8 C316.17 272.87 313.37 273 312 273.2 C310.63 273.4 310.05 273.28 308.8 274 C307.55 274.72 305.53 276 304.5 277.5 C303.47 279 302.95 280.75 302.6 283 C302.25 285.25 302.25 288.5 302.4 291 C302.55 293.5 303.07 296.17 303.5 298 C303.93 299.83 303.95 300.7 305 302 C306.05 303.3 308.03 304.87 309.8 305.8 C311.57 306.73 314.07 307.23 315.6 307.6 C317.13 307.97 318.43 307.93 319 308" stroke="#3ea2a8" stroke-width="1.6" fill="none" stroke-linecap="round" stroke-linejoin="round"/><path d="M317 272.8 C317.93 273.08 321.52 273.47 322.6 274.5 C323.68 275.53 322.93 277.58 323.5 279 C324.07 280.42 325.58 282.33 326 283" stroke="#3ea2a8" stroke-width="1.6" fill="none" stroke-linecap="round" stroke-linejoin="round"/><path d="M325 272 C325.83 272.83 328.25 275.33 330 277 C331.75 278.67 334 280.17 335.5 282 C337 283.83 338.42 287 339 288" stroke="#3ea2a8" stroke-width="1.6" fill="none" stroke-linecap="round" stroke-linejoin="round"/><path d="M336.4 273.4 C337.37 273.97 340.77 275.7 342.2 276.8 C343.63 277.9 344.53 279.47 345 280" stroke="#3ea2a8" stroke-width="1.6" fill="none" stroke-linecap="round" stroke-linejoin="round"/><path d="M345 268 C345.87 267.05 348.28 263.73 350.2 262.3 C352.12 260.87 354.87 259.88 356.5 259.4 C358.13 258.92 359.13 258.72 360 259.4 C360.87 260.08 361.17 261.73 361.7 263.5 C362.23 265.27 362.92 267.92 363.2 270 C363.48 272.08 363.52 273.5 363.4 276 C363.28 278.5 362.9 282.17 362.5 285 C362.1 287.83 361.25 291.67 361 293" stroke="#3ea2a8" stroke-width="1.7" fill="none" stroke-linecap="round" stroke-linejoin="round"/><path d="M328.3 303.5 C328.92 303.92 330.65 305.03 332 306 C333.35 306.97 334.9 308.72 336.4 309.3 C337.9 309.88 339.28 309.6 341 309.5 C342.72 309.4 345.75 308.83 346.7 308.7" stroke="#3ea2a8" stroke-width="1.3" fill="none" stroke-linecap="round" stroke-linejoin="round"/><path d="M333 330 C333.67 329.42 335.5 327.33 337 326.5 C338.5 325.67 341.17 324.12 342 325 C342.83 325.88 342.83 330.47 342 331.8 C341.17 333.13 338.5 333.3 337 333 C335.5 332.7 333.67 330.5 333 330" stroke="#3ea2a8" stroke-width="1.2" fill="none" stroke-linecap="round" stroke-linejoin="round"/><path d="M321.3 367.7 C320.75 368.25 319.05 369.95 318 371 C316.95 372.05 315.98 372.83 315 374 C314.02 375.17 312.67 376.5 312.1 378 C311.53 379.5 311.53 381.67 311.6 383 C311.67 384.33 311.75 385.1 312.5 386 C313.25 386.9 314.63 387.15 316.1 388.4 C317.57 389.65 319.37 392.73 321.3 393.5 C323.23 394.27 325.48 393.65 327.7 393 C329.92 392.35 332.97 390.93 334.6 389.6 C336.23 388.27 337.1 386.73 337.5 385 C337.9 383.27 337.48 380.53 337 379.2 C336.52 377.87 335 377.37 334.6 377" stroke="#3ea2a8" stroke-width="1.8" fill="none" stroke-linecap="round" stroke-linejoin="round"/><path d="M345 372 C345.57 372.43 346.48 373.77 348.4 374.6 C350.32 375.43 354.95 375.65 356.5 377 C358.05 378.35 357.85 380.7 357.7 382.7 C357.55 384.7 355.8 387.03 355.6 389 C355.4 390.97 355.77 393.17 356.5 394.5 C357.23 395.83 358.2 396.62 360 397 C361.8 397.38 364.73 397.47 367.3 396.8 C369.87 396.13 373.28 394.4 375.4 393 C377.52 391.6 378.85 389.73 380 388.4 C381.15 387.07 381.63 386.23 382.3 385 C382.97 383.77 383.72 381.67 384 381" stroke="#3ea2a8" stroke-width="1.8" fill="none" stroke-linecap="round" stroke-linejoin="round"/><path d="M386 344 C386.33 343.92 386.67 343.92 388 343.5 C389.33 343.08 392 341.75 394 341.5 C396 341.25 398.3 341.28 400 342 C401.7 342.72 403.5 343.83 404.2 345.8 C404.9 347.77 405.35 351.4 404.2 353.8 C403.05 356.2 399.6 359.23 397.3 360.2 C395 361.17 391.95 360.47 390.4 359.6 C388.85 358.73 388.4 355.77 388 355" stroke="#3ea2a8" stroke-width="1.8" fill="none" stroke-linecap="round" stroke-linejoin="round"/><path d="M396.7 372 C396.7 373 396.8 375.67 396.7 378 C396.6 380.33 396.3 383.67 396.1 386 C395.9 388.33 395.68 390.25 395.5 392 C395.32 393.75 395.08 395.75 395 396.5" stroke="#3ea2a8" stroke-width="1.6" fill="none" stroke-linecap="round" stroke-linejoin="round"/><path d="M388 381 C387.83 381.83 387.77 384.38 387 386 C386.23 387.62 384.47 389.13 383.4 390.7 C382.33 392.27 381.07 394.62 380.6 395.4" stroke="#3ea2a8" stroke-width="1.6" fill="none" stroke-linecap="round" stroke-linejoin="round"/><path d="M370.2 369.4 C370.67 369.67 372.13 370.33 373 371 C373.87 371.67 374.73 372.4 375.4 373.4 C376.07 374.4 376.73 376.4 377 377" stroke="#6a98b0" stroke-width="1.1" fill="none" stroke-linecap="round" stroke-linejoin="round"/><path d="M371.5 317.3 C372.08 317.08 373.85 316.18 375 316 C376.15 315.82 377.07 315.7 378.4 316.2 C379.73 316.7 382.03 317.75 383 319 C383.97 320.25 384 322.92 384.2 323.7" stroke="#3ea2a8" stroke-width="1.3" fill="none" stroke-linecap="round" stroke-linejoin="round"/><path d="M354.2 334 C353.83 334.67 352.7 336.83 352 338 C351.3 339.17 350.33 340.5 350 341" stroke="#6a88b0" stroke-width="1.0" fill="none" stroke-linecap="round" stroke-linejoin="round"/><path d="M344.5 264 L353.5 262.5 L358 272 L362.5 285 L366 298 L362 300 L357 292 L350 280 Z" fill="url(#gTeal)" stroke="#1e8a8e" stroke-width="0.6" stroke-linejoin="round" /><path d="M340.4 287 L346 283.5 L356 292 L365 302 L368 310 L362 311 L352 301 Z" fill="url(#gTeal)" stroke="#1e8a8e" stroke-width="0.6" stroke-linejoin="round" /><path d="M362 302 L370 304 L378 325 L385 346 L389.5 366 L396 364.5 L398 367 L391 380 L385.5 381 L383 378 L385 376 L379 352 L371 328 Z" fill="url(#gTeal)" stroke="#1e8a8e" stroke-width="0.6" stroke-linejoin="round" /><path d="M366.5 314 L371 312 L380 330 L387.5 348 L388.5 356 L383 356 L378 340 Z" fill="url(#gTeal2)" stroke="#1e8a8e" stroke-width="0.6" stroke-linejoin="round" /><path d="M317.2 290 L322.2 290 L323.5 318 L324.6 345 L323.3 367.7 L320.6 367.7 L318.2 345 L319.2 318 Z" fill="url(#gTeal)" stroke="#1e8a8e" stroke-width="0.6" stroke-linejoin="round" /><path d="M323.8 290 L328.8 290 L326 318 L323.5 324 L321.8 318 Z" fill="url(#gTeal2)" stroke="#1e8a8e" stroke-width="0.6" stroke-linejoin="round" /><path d="M324.2 326 L327.4 326 L329.5 345 L335 377.2 L330 377.2 L326.5 345 Z" fill="url(#gTeal)" stroke="#1e8a8e" stroke-width="0.6" stroke-linejoin="round" /><path d="M326.5 336 L333.5 336 L341 352 L347.3 370 L338.5 371 L333 352 Z" fill="url(#gTeal2)" stroke="#1e8a8e" stroke-width="0.6" stroke-linejoin="round" /><path d="M341.5 340 L348 338 L355 350 L360.8 362 L359 366.5 L352.5 360 Z" fill="url(#gTeal)" stroke="#1e8a8e" stroke-width="0.6" stroke-linejoin="round" /><path d="M322.5 314 L331 316.5 L340 313.3 L346.7 315 L347 322 L342.5 324.5 L333 321 L323 325 Z" fill="url(#gTeal2)" stroke="#1e8a8e" stroke-width="0.6" stroke-linejoin="round" /><path d="M367.6 266.2 L369.4 266.2 L368.8 285 L367 305 L367.2 326 L367.5 350 L370.2 365.4 L366.8 375.8 L362 380 L358.7 393.6 L358.2 392 L361 380 L359.8 365.4 L361.1 350 L362.3 326 L363.6 305 L366 285 Z" fill="url(#gYel)" stroke="#9a9410" stroke-width="0.5" stroke-linejoin="round" /><path d="M358.6 253.8 L360.2 252.2 L361.8 254.2 L363.4 257.8 L363.9 261.8 L362.8 264.6 L360.6 263.4 L359.4 259 Z" fill="#e4e070" stroke="#3a4418" stroke-width="0.8" stroke-linejoin="round" /><path d="M352 287.7 C352.5 288.25 354.05 289.85 355 291 C355.95 292.15 357.25 294 357.7 294.6" stroke="#e6da2a" stroke-width="1.1" fill="none" stroke-linecap="round" stroke-linejoin="round"/><path d="M344.4 336 C344.58 334.67 344.82 329.77 345.5 328 C346.18 326.23 347.72 325.23 348.5 325.4 C349.28 325.57 350.45 326.9 350.2 329 C349.95 331.1 347.97 336.83 347 338 C346.03 339.17 344.83 336.33 344.4 336" stroke="#e6da2a" stroke-width="1.1" fill="none" stroke-linecap="round" stroke-linejoin="round"/><path d="M345 335 C345.97 334.27 348.97 332.1 350.8 330.6 C352.63 329.1 354.28 327.53 356 326 C357.72 324.47 360.25 322.17 361.1 321.4" stroke="#e6da2a" stroke-width="0.9" fill="none" stroke-linecap="round" stroke-linejoin="round"/><path d="M378.4 330 C378.4 328.67 377.97 323.73 378.4 322 C378.83 320.27 380.03 319.43 381 319.6 C381.97 319.77 383.78 321.27 384.2 323 C384.62 324.73 384.2 328.67 383.5 330 C382.8 331.33 380.58 330.83 380 331" stroke="#e6da2a" stroke-width="1.1" fill="none" stroke-linecap="round" stroke-linejoin="round"/></g>
<text x="365.7" y="257.1" font-size="8.8"><tspan font-family='"Liberation Serif", serif' fill="#6a6a6a">W</tspan><tspan font-weight="bold" fill="#333">989</tspan></text>
<text x="318.5" y="271.6" font-size="8.8"><tspan font-family='"Liberation Serif", serif' fill="#6a6a6a">K</tspan><tspan font-weight="bold" fill="#333">2280</tspan></text>
<text x="309.2" y="288.9" font-size="8.8"><tspan font-family='"Liberation Serif", serif' fill="#6a6a6a">A</tspan><tspan font-weight="bold" fill="#333">2281</tspan></text>
<text x="370.2" y="297.6" font-size="8.8"><tspan font-family='"Liberation Serif", serif' fill="#6a6a6a">V</tspan><tspan font-weight="bold" fill="#333">990</tspan></text>
<text x="314.6" y="319.3" font-size="8.8"><tspan font-family='"Liberation Serif", serif' fill="#6a6a6a">I</tspan><tspan font-weight="bold" fill="#333">2283</tspan></text>
<text x="298.5" y="333.9" font-size="8.8"><tspan font-family='"Liberation Serif", serif' fill="#6a6a6a">V</tspan><tspan font-weight="bold" fill="#333">2295</tspan></text>
<text x="307.0" y="344.6" font-size="8.8"><tspan font-family='"Liberation Serif", serif' fill="#6a6a6a">F</tspan><tspan font-weight="bold" fill="#333">2285</tspan></text>
<text x="353.8" y="331.6" font-size="8.8"><tspan font-family='"Liberation Serif", serif' fill="#6a6a6a">F</tspan><tspan font-weight="bold" fill="#333">992</tspan><tspan font-weight="bold" fill="#222">,</tspan></text>
<text x="382.3" y="331.6" font-size="8.8"><tspan font-family='"Liberation Serif", serif' fill="#6a6a6a">F</tspan><tspan font-weight="bold" fill="#333">993</tspan></text>
<text x="379.2" y="340.6" font-size="8.8"><tspan font-family='"Liberation Serif", serif' fill="#6a6a6a">I</tspan><tspan font-weight="bold" fill="#333">2273</tspan><tspan font-weight="bold" fill="#222">,</tspan><tspan font-family='"Liberation Serif", serif' fill="#6a6a6a">A</tspan><tspan font-weight="bold" fill="#333">2272</tspan></text>
<text x="340.8" y="293.2" font-size="8.8" font-weight="bold" fill="#0a1818">G</text>
<text x="381.5" y="349.4" font-size="8.8" font-weight="bold" fill="#0a1818">F</text>
<text x="381.5" y="369.4" font-size="8.8" font-weight="bold" fill="#0a1818">C</text>
<text x="317" y="357" font-size="8.8" font-weight="bold" fill="#0a1818">D</text>
<text x="327" y="365.5" font-size="8.8" font-weight="bold" fill="#0a1818">E</text>
<text x="337.7" y="361.7" font-size="8.8" font-weight="bold" fill="#0a1818">B</text>
<text x="347.7" y="356.2" font-size="8.8" font-weight="bold" fill="#0a1818">A</text>
<rect x="0.5" y="0.5" width="519" height="649" fill="none" stroke="#5a5a5a" stroke-width="1"/>
</svg>
</body></html>
